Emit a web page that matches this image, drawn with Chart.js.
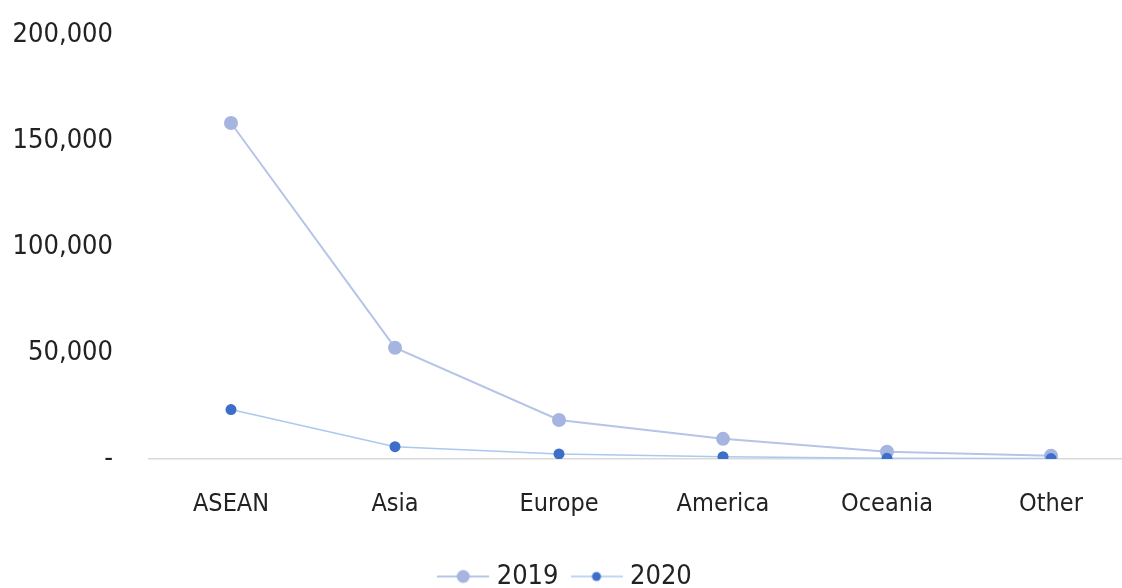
<!DOCTYPE html>
<html>
<head>
<meta charset="utf-8">
<script src="https://cdn.jsdelivr.net/npm/chart.js@4.4.1/dist/chart.umd.min.js"></script>
<style>
  html, body { margin: 0; padding: 0; background: #fff; overflow: hidden; }
  #wrap { width: 1140px; height: 588px; }
</style>
</head>
<body>
<div id="wrap"><canvas id="regionChart" width="1140" height="588"></canvas></div>
<script>
// arrivals by region
const regions = ["ASEAN", "Asia", "Europe", "America", "Oceania", "Other"];
const years = ["2019", "2020"];
const arrivals2019 = [158500, 52500, 18400, 9500, 3400, 1500];
const arrivals2020 = [23300, 5800, 2400, 1100, 300, 200];
const yTicks = [0, 50000, 100000, 150000, 200000];

const FONT = "'DejaVu Sans Condensed', 'DejaVu Sans', sans-serif";
const c2019 = { line: "#b6c4e8", dot: "#a6b5df" };
const c2020 = { line: "#abc9ee", dot: "#3d6ec9" };

// small line+dot swatch for the legend
function swatch(col, r, lw) {
  const cv = document.createElement("canvas");
  cv.width = 52; cv.height = 16;
  const g = cv.getContext("2d");
  g.strokeStyle = col.line;
  g.lineWidth = lw;
  g.beginPath(); g.moveTo(0, 8); g.lineTo(52, 8); g.stroke();
  g.fillStyle = col.dot;
  g.beginPath(); g.arc(26, 8, r, 0, Math.PI * 2); g.fill();
  return cv;
}
const swatches = [swatch(c2019, 6.5, 2), swatch(c2020, 4.5, 1.5)];

const ctx = document.getElementById("regionChart");
new Chart(ctx, {
  type: "line",
  data: {
    labels: regions,
    datasets: [
      {
        label: years[0],
        data: arrivals2019,
        order: 1,
        borderColor: c2019.line,
        borderWidth: 2,
        pointBackgroundColor: c2019.dot,
        pointBorderWidth: 0,
        pointRadius: 7,
        tension: 0
      },
      {
        label: years[1],
        data: arrivals2020,
        order: 0,
        borderColor: c2020.line,
        borderWidth: 1.5,
        pointBackgroundColor: c2020.dot,
        pointBorderWidth: 0,
        pointRadius: 5.5,
        tension: 0
      }
    ]
  },
  options: {
    responsive: false,
    animation: false,
    layout: { padding: { top: 35, right: 5, left: 0, bottom: -12 } },
    scales: {
      x: {
        offset: true,
        grid: { display: false, drawTicks: false },
        border: { color: "#d9d9d9", width: 1.5 },
        ticks: { color: "#222", font: { family: FONT, size: 25 }, padding: 30 },
        afterFit: s => { s.height = 86; }
      },
      y: {
        min: 0,
        max: 200000,
        afterBuildTicks: s => { s.ticks = yTicks.map(v => ({ value: v })); },
        grid: { display: false, drawTicks: false },
        border: { display: false },
        ticks: {
          color: "#222",
          padding: 36,
          font: { family: FONT, size: 27 },
          callback: v => v === 0 ? "-" : v.toLocaleString("en-US")
        },
        // fixed gutter; don't let the tick padding push the plot down
        afterFit: s => { s.width = 149; s.paddingTop = 0; s.paddingBottom = 0; }
      }
    },
    plugins: {
      tooltip: { enabled: false },
      legend: {
        position: "bottom",
        labels: {
          color: "#222",
          font: { family: FONT, size: 27 },
          usePointStyle: true,
          pointStyleWidth: 40,
          padding: 18,
          sort: (a, b) => a.datasetIndex - b.datasetIndex,
          generateLabels: chart => {
            const items = Chart.defaults.plugins.legend.labels.generateLabels(chart);
            items.forEach(it => { it.pointStyle = swatches[it.datasetIndex]; });
            return items;
          }
        }
      }
    }
  }
});
</script>
</body>
</html>
